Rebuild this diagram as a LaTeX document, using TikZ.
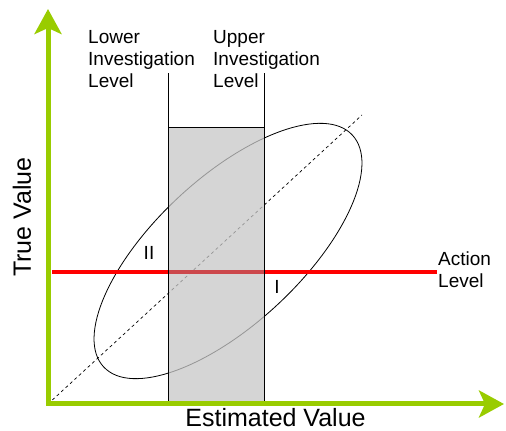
\documentclass[tikz,border=0pt]{standalone}
\usepackage{fontspec}
\setmainfont{Liberation Sans}
\usetikzlibrary{arrows.meta}
\definecolor{axisgreen}{RGB}{153,204,0}
\definecolor{bandred}{RGB}{204,72,76}
\tikzset{
	axis/.style={axisgreen, line width=5pt, -{Stealth[length=25pt,width=27pt,inset=6pt]}},
	level/.style={black, line width=0.8pt},
	lbl/.style={font=\fontsize{19}{22}\selectfont, inner sep=0pt},
	biglbl/.style={font=\fontsize{25}{28}\selectfont, inner sep=0pt}
}

\begin{document}
\begin{tikzpicture}[x=1pt, y=1pt]
	\useasboundingbox (0,0) rectangle (506,431);
	\coordinate (o) at (48,27);
	\coordinate (ytip) at (48,422);
	\coordinate (xtip) at (504,27);
	\coordinate (lowtop) at (168,358);
	\coordinate (uptop) at (264,358);
	\coordinate (diag) at (362,316);
	\coordinate (actl) at (52,159);
	\coordinate (actr) at (437,159);
	% ellipse and identity line
	\draw[black, line width=0.8pt, rotate around={43:(228,180)}] (228,180) ellipse (170 and 73);
	\draw[black, dashed, line width=0.7pt] (o) -- (diag);
	\draw[red, line width=4pt] (actl) -- (actr);
	% investigation band
	\fill[black!22, fill opacity=0.75] (168,27) rectangle (264,304);
	\draw[bandred, line width=4pt] (168,159) -- (264,159);
	\draw[level] (168,27) rectangle (264,304);
	\draw[level] (168,304) -- (lowtop);
	\draw[level] (264,304) -- (uptop);
	% axes
	\draw[axis] (46,27) -- (xtip);
	\draw[axis] (48,25) -- (ytip);
	% labels
	\node[lbl, align=left, anchor=north west] (lower) at (88,401) {Lower\\Investigation\\Level};
	\node[lbl, align=left, anchor=north west] (upper) at (213,401) {Upper\\Investigation\\Level};
	\node[lbl, align=left, anchor=west] (action) at (438,161) {Action\\Level};
	\node[lbl] (two) at (149,178) {II};
	\node[lbl] (one) at (277,144) {I};
	\node[biglbl, rotate=90] (truev) at (22,214) {True Value};
	\node[biglbl, anchor=base] (estv) at (275.5,4.5) {Estimated Value};
\end{tikzpicture}
\end{document}
